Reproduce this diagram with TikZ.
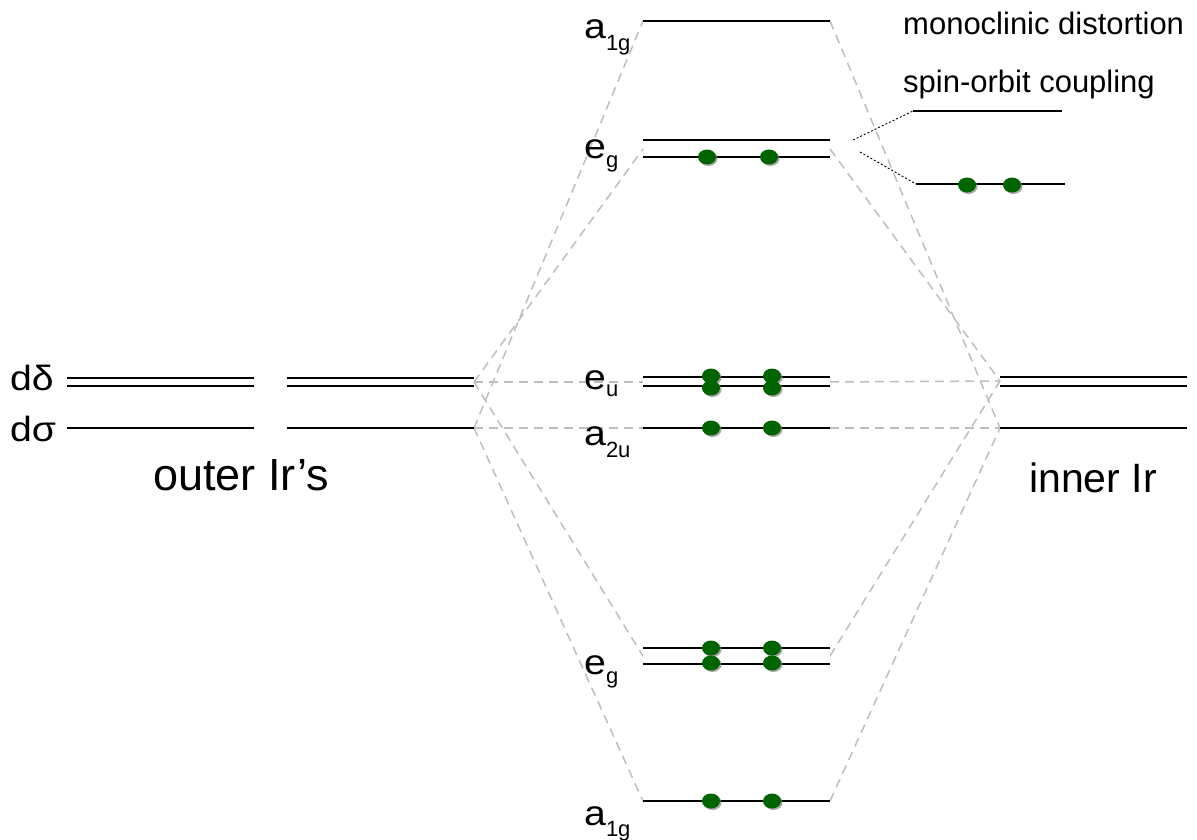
\documentclass[tikz,border=0pt]{standalone}
\usepackage{fontspec}
\setmainfont{Liberation Sans}
\usetikzlibrary{shapes.geometric,shadows}
\definecolor{elec}{RGB}{0,100,0}
\definecolor{conngray}{RGB}{190,190,190}
\newcommand\mylab[3]{\scalebox{1.12}[1]{\fontsize{35}{35}\selectfont #1}\raisebox{-#3pt}{\fontsize{22}{22}\selectfont #2}}
\tikzset{
  level/.style={line width=2pt, black},
  conn/.style={draw=conngray, line width=1.5pt, dash pattern=on 9pt off 6pt},
  splitline/.style={black, line width=0.9pt, dash pattern=on 2pt off 2pt},
  electron/.style={ellipse, fill=elec, minimum width=18pt, minimum height=15pt, inner sep=0pt,
    drop shadow={shadow xshift=1.5pt, shadow yshift=-1.5pt, fill=gray, opacity=0.7}},
  lbl/.style={anchor=base west, inner sep=0pt}
}
\begin{document}
\begin{tikzpicture}[x=1pt,y=-1pt]
\useasboundingbox (0,0) rectangle (1197,840);
% level end coordinates
\coordinate (oL1) at (474,382);
\coordinate (oL2) at (474,428);
\coordinate (iR1) at (1000,381);
\coordinate (iR2) at (1000,428);
\coordinate (aTL) at (643,21);   \coordinate (aTR) at (830,21);
\coordinate (gTL) at (643,149);  \coordinate (gTR) at (830,149);
\coordinate (uL) at (643,382);   \coordinate (uR) at (830,382);
\coordinate (a2L) at (643,428);  \coordinate (a2R) at (830,428);
\coordinate (gBL) at (643,656);  \coordinate (gBR) at (830,656);
\coordinate (aBL) at (643,801);  \coordinate (aBR) at (830,801);
\coordinate (s1a) at (853,140);  \coordinate (s1b) at (913,111);
\coordinate (s2a) at (860,152);  \coordinate (s2b) at (916,184);

% correlation lines
\draw[conn] (oL2) -- (aTL);
\draw[conn] (oL1) -- (gTL);
\draw[conn] (oL1) -- (uL);
\draw[conn] (oL2) -- (a2L);
\draw[conn] (oL1) -- (gBL);
\draw[conn] (oL2) -- (aBL);
\draw[conn] (aTR) -- (iR2);
\draw[conn] (gTR) -- (iR1);
\draw[conn] (uR) -- (iR1);
\draw[conn] (a2R) -- (iR2);
\draw[conn] (gBR) -- (iR1);
\draw[conn] (aBR) -- (iR2);

% outer Ir levels
\draw[level] (67,378) -- (254,378);
\draw[level] (67,386) -- (254,386);
\draw[level] (67,428) -- (254,428);
\draw[level] (287,378) -- (474,378);
\draw[level] (287,386) -- (474,386);
\draw[level] (287,428) -- (474,428);
% inner Ir levels
\draw[level] (1000,377) -- (1187,377);
\draw[level] (1000,386) -- (1187,386);
\draw[level] (1000,428) -- (1187,428);
% molecular levels
\draw[level] (643,21) -- (830,21);
\draw[level] (643,140) -- (830,140);
\draw[level] (643,157) -- (830,157);
\draw[level] (643,377) -- (830,377);
\draw[level] (643,386) -- (830,386);
\draw[level] (643,428) -- (830,428);
\draw[level] (643,648) -- (830,648);
\draw[level] (643,664) -- (830,664);
\draw[level] (643,801) -- (830,801);
% split levels
\draw[level] (913,111) -- (1062,111);
\draw[level] (916,184) -- (1065,184);
\draw[splitline] (s1a) -- (s1b);
\draw[splitline] (s2a) -- (s2b);

% electrons
\node[electron] (e1) at (707,157) {};
\node[electron] (e2) at (769,157) {};
\node[electron] (e3) at (711,376) {};
\node[electron] (e4) at (711,388) {};
\node[electron] (e5) at (772,376) {};
\node[electron] (e6) at (772,388) {};
\node[electron] (e7) at (711,428) {};
\node[electron] (e8) at (772,428) {};
\node[electron] (e9) at (711,648) {};
\node[electron] (e10) at (711,663) {};
\node[electron] (e11) at (772,648) {};
\node[electron] (e12) at (772,663) {};
\node[electron] (e13) at (711,801) {};
\node[electron] (e14) at (772,801) {};
\node[electron] (e15) at (967,185) {};
\node[electron] (e16) at (1012,185) {};

% labels
\node[lbl] (lddelta) at (10,390) {\scalebox{1.12}[1]{\fontsize{35}{35}\selectfont dδ}};
\node[lbl] (ldsigma) at (10,441) {\scalebox{1.12}[1]{\fontsize{35}{35}\selectfont dσ}};
\node[lbl] (louter) at (153,490) {\fontsize{45}{45}\selectfont outer Ir’s};
\node[lbl] (linner) at (1029,492) {\fontsize{41}{41}\selectfont inner Ir};
\node[lbl] (lmono) at (903,35) {\fontsize{31}{31}\selectfont monoclinic distortion};
\node[lbl] (lspin) at (903,93) {\fontsize{31}{31}\selectfont spin-orbit coupling};
\node[lbl] (la1gT) at (584,39) {\mylab{a}{1g}{12}};
\node[lbl] (legT) at (584,159) {\mylab{e}{g}{9}};
\node[lbl] (leu) at (584,389) {\mylab{e}{u}{7}};
\node[lbl] (la2u) at (584,445) {\mylab{a}{2u}{12}};
\node[lbl] (legB) at (584,674) {\mylab{e}{g}{9}};
\node[lbl] (la1gB) at (584,825) {\mylab{a}{1g}{11}};
\end{tikzpicture}
\end{document}
